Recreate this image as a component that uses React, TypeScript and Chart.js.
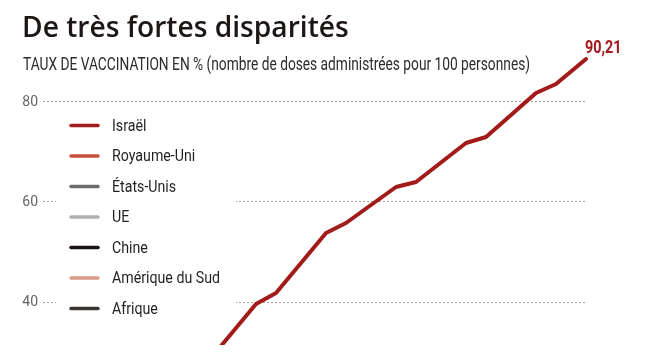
import React, { useEffect, useRef } from "react";
import { Chart, registerables } from "chart.js";

Chart.register(...registerables);

// ---- Data ----
const titleText = "De très fortes disparités";
const subtitleText =
  "TAUX DE VACCINATION EN % (nombre de doses administrées pour 100 personnes)";
const seriesNames = [
  "Israël",
  "Royaume-Uni",
  "États-Unis",
  "UE",
  "Chine",
  "Amérique du Sud",
  "Afrique",
];
const seriesColors = [
  "#a21a1a",
  "#c4513c",
  "#6b6b6b",
  "#b0b0b0",
  "#1a1212",
  "#d99a88",
  "#3a3632",
];
// Israël: day index / doses per 100 people (visible part of the curve)
const israelDays = [-2, 3, 5, 10, 12, 17, 19, 24, 26, 31, 33, 36];
const israelValues = [27.6, 39.6, 41.8, 53.8, 55.8, 63.0, 64.0, 71.8, 73.0, 81.8, 83.6, 88.6];
// The other series lie below the visible window of this crop
const royaumeUniValues: number[] = [];
const etatsUnisValues: number[] = [];
const ueValues: number[] = [];
const chineValues: number[] = [];
const ameriqueSudValues: number[] = [];
const afriqueValues: number[] = [];
const yTicks = [40, 60, 80];
const lastValueLabel = "90,21";

const W = 652;
const H = 363;

function condensedText(
  ctx: CanvasRenderingContext2D,
  text: string,
  x: number,
  y: number,
  font: string,
  color: string,
  sx: number,
  baseline: CanvasTextBaseline
) {
  ctx.save();
  ctx.font = font;
  ctx.fillStyle = color;
  ctx.textAlign = "left";
  ctx.textBaseline = baseline;
  ctx.translate(x, y);
  ctx.scale(sx, 1);
  ctx.fillText(text, 0, 0);
  ctx.restore();
}

const overlayPlugin = {
  id: "overlay",
  beforeDatasetsDraw(chart: any) {
    const ctx: CanvasRenderingContext2D = chart.ctx;
    // legend box (white, hides grid lines)
    ctx.save();
    ctx.fillStyle = "#ffffff";
    ctx.fillRect(56, 110, 180, 212);
    const rowTop = 125.5;
    const rowGap = 30.5;
    chart.data.datasets.forEach((ds: any, i: number) => {
      const y = rowTop + i * rowGap;
      ctx.beginPath();
      ctx.strokeStyle = ds.borderColor;
      ctx.lineWidth = 3.5;
      ctx.lineCap = "round";
      ctx.moveTo(71, y);
      ctx.lineTo(98, y);
      ctx.stroke();
      condensedText(ctx, ds.label, 112, y + 1, "400 16.5px Roboto", "#231f1e", 0.86, "middle");
    });
    ctx.restore();
  },
  afterDatasetsDraw(chart: any) {
    const ctx: CanvasRenderingContext2D = chart.ctx;
    const meta = chart.getDatasetMeta(0);
    const pt = meta.data[meta.data.length - 1];
    if (!pt) return;
    condensedText(ctx, lastValueLabel, pt.x - 1, pt.y - 6, "700 18px Roboto", "#a3161c", 0.8, "alphabetic");
  },
};

export default function App() {
  const canvasRef = useRef<HTMLCanvasElement | null>(null);
  const titleRef = useRef<HTMLDivElement | null>(null);
  const subRef = useRef<HTMLDivElement | null>(null);

  useEffect(() => {
    const fit = () => {
      const pairs: [HTMLDivElement | null, number][] = [
        [titleRef.current, 327],
        [subRef.current, 507],
      ];
      pairs.forEach(([el, target]) => {
        if (!el) return;
        const w = el.offsetWidth;
        if (w > 0) el.style.transform = `scaleX(${target / w})`;
      });
    };
    fit();
    if ((document as any).fonts && (document as any).fonts.ready) {
      (document as any).fonts.ready.then(fit);
    }
  }, []);

  useEffect(() => {
    if (!canvasRef.current) return;
    const allValues = [
      israelDays.map((d, i) => ({ x: d, y: israelValues[i] })),
      royaumeUniValues,
      etatsUnisValues,
      ueValues,
      chineValues,
      ameriqueSudValues,
      afriqueValues,
    ];
    const chart = new Chart(canvasRef.current, {
      type: "line",
      data: {
        datasets: seriesNames.map((name, i) => ({
          label: name,
          data: allValues[i] as any,
          borderColor: seriesColors[i],
          backgroundColor: seriesColors[i],
          borderWidth: 4,
          pointRadius: 0,
          tension: 0,
          borderJoinStyle: "round" as const,
          borderCapStyle: "round" as const,
          clip: { left: 0, top: 10, right: 10, bottom: 0 } as any,
        })),
      },
      options: {
        animation: false,
        responsive: false,
        maintainAspectRatio: false,
        layout: { padding: { left: 0, right: W - 586, top: 42, bottom: H - 345 } },
        plugins: {
          legend: { display: false },
          title: { display: false },
          tooltip: { enabled: false },
        },
        scales: {
          x: {
            type: "linear",
            min: -18.3,
            max: 36,
            display: false,
          },
          y: {
            type: "linear",
            min: 31.4,
            max: 92,
            afterBuildTicks: (axis: any) => {
              axis.ticks = yTicks.map((v) => ({ value: v }));
            },
            afterFit: (axis: any) => {
              axis.width = 43;
            },
            grid: {
              color: "#a0a0a0",
              lineWidth: 1,
              drawTicks: false,
            },
            border: { display: false, dash: [2, 2] },
            ticks: {
              padding: 5,
              color: "#666666",
              font: { family: "Roboto", size: 14 },
            },
          },
        },
      },
      plugins: [overlayPlugin],
    });
    return () => chart.destroy();
  }, []);

  return (
    <div
      style={{
        position: "fixed",
        left: 0,
        top: 0,
        width: W,
        height: H,
        background: "#ffffff",
        overflow: "hidden",
      }}
    >
      <canvas
        ref={canvasRef}
        width={W}
        height={H}
        style={{ position: "absolute", left: 0, top: 0, width: W, height: H }}
      />
      <div
        ref={titleRef}
        style={{
          position: "absolute",
          left: 22,
          top: 12,
          fontFamily: "'Open Sans'",
          fontWeight: 600,
          fontSize: 28,
          lineHeight: 1,
          color: "#1c1614",
          whiteSpace: "nowrap",
          display: "inline-block",
          transformOrigin: "left top",
        }}
      >
        {titleText}
      </div>
      <div
        ref={subRef}
        style={{
          position: "absolute",
          left: 23,
          top: 54,
          fontFamily: "Roboto",
          fontWeight: 400,
          fontSize: 19,
          lineHeight: 1,
          color: "#2e2a29",
          whiteSpace: "nowrap",
          display: "inline-block",
          transformOrigin: "left top",
        }}
      >
        {subtitleText}
      </div>
    </div>
  );
}
